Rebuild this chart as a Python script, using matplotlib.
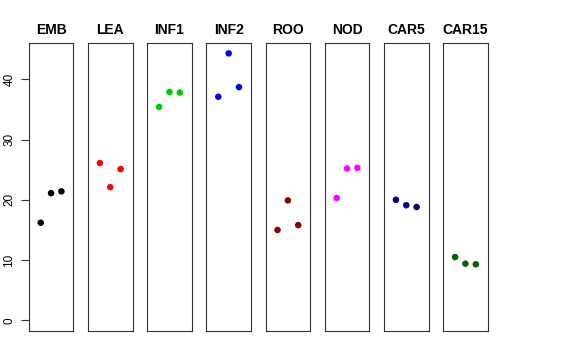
import matplotlib
matplotlib.use("Agg")
import matplotlib.pyplot as plt

categories = ["EMB", "LEA", "INF1", "INF2", "ROO", "NOD", "CAR5", "CAR15"]
values = {
    "EMB": [16.2, 21.1, 21.4],
    "LEA": [26.1, 22.1, 25.1],
    "INF1": [35.4, 37.9, 37.8],
    "INF2": [37.1, 44.3, 38.7],
    "ROO": [15.0, 19.9, 15.8],
    "NOD": [20.3, 25.2, 25.3],
    "CAR5": [20.0, 19.1, 18.8],
    "CAR15": [10.5, 9.4, 9.3],
}
colors = ["#000000", "#FF0000", "#00CD00", "#0000FF", "#8B0000", "#FF00FF", "#000080", "#006400"]
yticks = [0, 10, 20, 30, 40]

plt.rcParams['font.family'] = ['Liberation Sans', 'DejaVu Sans']
W, H = 576, 360
fig = plt.figure(figsize=(W / 100, H / 100), dpi=100)

ymax = max(max(v) for v in values.values())
ymin = 0.0
r = ymax - ymin
left0, pitch, pw = 28.7, 59.2, 44.7
top, bottom = 42.7, 331.0

for i, cat in enumerate(categories):
    x0 = left0 + i * pitch
    ax = fig.add_axes([x0 / W, 1 - bottom / H, pw / W, (bottom - top) / H])
    vals = values[cat]
    xs = list(range(1, len(vals) + 1))
    ax.scatter(xs, vals, s=22, color=colors[i], edgecolors='none', zorder=3)
    ax.set_xlim(0 - 0.16, 4 + 0.16)
    ax.set_ylim(ymin - 0.04 * r, ymax + 0.04 * r)
    ax.set_xticks([])
    for sp in ax.spines.values():
        sp.set_linewidth(0.8)
        sp.set_color('#333333')
    ax.set_title(cat, fontsize=10, fontweight='bold', pad=6)
    if i == 0:
        ax.set_yticks(yticks)
        ax.tick_params(axis='y', length=5.5, width=0.8, pad=4, labelsize=8.5, color='#333333')
        for lab in ax.get_yticklabels():
            lab.set_rotation(90)
            lab.set_va('center')
    else:
        ax.set_yticks([])

fig.savefig("out.png", dpi=100)
